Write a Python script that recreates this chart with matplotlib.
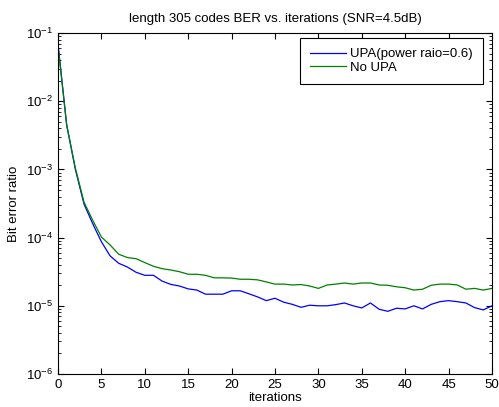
import matplotlib
matplotlib.use("Agg")
import matplotlib.pyplot as plt
import numpy as np

plt.rcParams['font.family'] = ['Liberation Sans', 'DejaVu Sans']
plt.rcParams['mathtext.fontset'] = 'custom'
plt.rcParams['mathtext.rm'] = 'Liberation Sans'

iterations = np.arange(0, 51)

# BER with unequal power allocation (power ratio 0.6)
ber_upa = [7.0e-2, 4.5e-3, 1.0e-3, 3.1e-4, 1.6e-4, 8.7e-5, 5.4e-5, 4.2e-5, 3.7e-5, 3.1e-5,
           2.8e-5, 2.8e-5, 2.3e-5, 2.06e-5, 1.95e-5, 1.77e-5, 1.7e-5, 1.48e-5, 1.48e-5, 1.48e-5,
           1.66e-5, 1.66e-5, 1.5e-5, 1.35e-5, 1.19e-5, 1.29e-5, 1.13e-5, 1.05e-5, 9.5e-6, 1.02e-5,
           1.0e-5, 1.0e-5, 1.04e-5, 1.1e-5, 1.0e-5, 9.3e-6, 1.1e-5, 8.9e-6, 8.3e-6, 9.2e-6,
           9.0e-6, 1.0e-5, 9.0e-6, 1.05e-5, 1.15e-5, 1.19e-5, 1.15e-5, 1.1e-5, 9.4e-6, 8.7e-6,
           1.0e-5]

# BER without UPA
ber_no_upa = [6.5e-2, 4.5e-3, 1.05e-3, 3.3e-4, 1.8e-4, 1.02e-4, 7.8e-5, 5.7e-5, 5.1e-5, 4.9e-5,
              4.3e-5, 3.8e-5, 3.5e-5, 3.35e-5, 3.16e-5, 2.9e-5, 2.9e-5, 2.8e-5, 2.57e-5, 2.57e-5,
              2.55e-5, 2.45e-5, 2.45e-5, 2.4e-5, 2.24e-5, 2.08e-5, 2.08e-5, 2.02e-5, 2.05e-5, 1.95e-5,
              1.8e-5, 2.02e-5, 2.08e-5, 2.16e-5, 2.08e-5, 2.16e-5, 2.16e-5, 2.02e-5, 2.0e-5, 1.9e-5,
              1.84e-5, 1.7e-5, 1.75e-5, 2.0e-5, 2.08e-5, 2.08e-5, 2.02e-5, 1.75e-5, 1.8e-5, 1.7e-5,
              1.8e-5]

fig = plt.figure(figsize=(4.99, 4.07), dpi=100)
ax = fig.add_axes([0.1162, 0.0811, 0.8697, 0.8378])

ax.semilogy(iterations, ber_upa, color='#0000ff', linewidth=0.9, label='UPA(power raio=0.6)')
ax.semilogy(iterations, ber_no_upa, color='#008000', linewidth=0.9, label='No UPA')

ax.set_xlim(0, 50)
ax.set_ylim(1e-6, 1e-1)
ax.set_xticks(range(0, 51, 5))
ax.tick_params(which='both', direction='in', top=True, right=True, labelsize=9.5)
ax.tick_params(which='major', length=4)
ax.tick_params(which='minor', length=2)
ax.tick_params(axis='x', which='minor', bottom=False, top=False)
for s in ax.spines.values():
    s.set_linewidth(0.8)

ax.set_title('length 305 codes BER vs. iterations (SNR=4.5dB)', fontsize=9.5, pad=8)
ax.set_xlabel('iterations', fontsize=9.5, labelpad=1)
ax.set_ylabel('Bit error ratio', fontsize=9.5, labelpad=4)

leg = ax.legend(loc='upper right', bbox_to_anchor=(0.979, 0.985), borderaxespad=0,
                fontsize=9.5, fancybox=False, framealpha=1, edgecolor='black',
                handlelength=2.75, handletextpad=0.3, labelspacing=0.1, borderpad=0.75)
leg.get_frame().set_linewidth(0.8)

fig.savefig('out.png', dpi=100)
